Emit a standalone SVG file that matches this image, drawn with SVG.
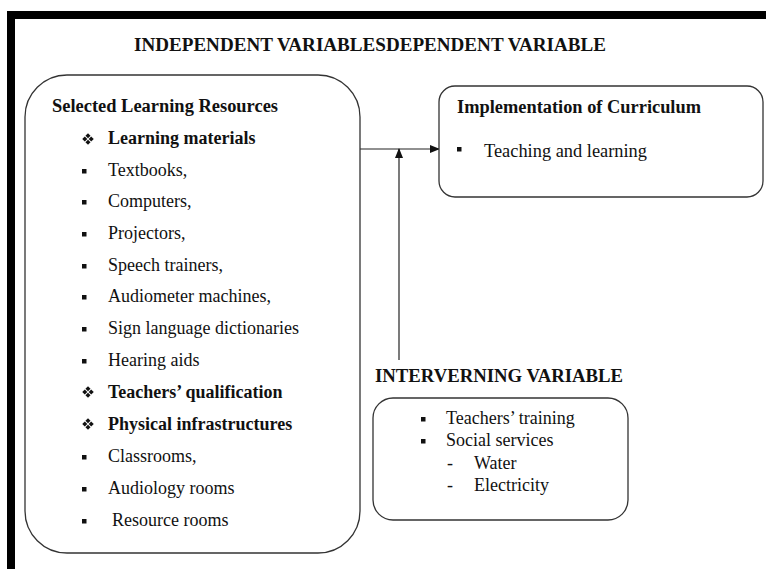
<svg xmlns="http://www.w3.org/2000/svg" width="766" height="569" viewBox="0 0 766 569">
  <style>
    text { font-family: "Liberation Serif", "Times New Roman", serif; fill: #111; font-size: 18px; }
    .b { font-weight: bold; }
    .box { fill: #fff; stroke: #333; stroke-width: 1.3; }
    .line { stroke: #222; stroke-width: 1.2; fill: none; }
    .sq { fill: #111; }
  </style>
  <defs>
    <marker id="arrow" markerWidth="10" markerHeight="8" refX="9" refY="4" orient="auto" markerUnits="userSpaceOnUse">
      <path d="M0,0 L10,4 L0,8 Z" fill="#111"/>
    </marker>
    <g id="diamond">
      <rect x="-1.8" y="-5" width="3.6" height="3.6" transform="rotate(45 0 -3.2)"/>
      <rect x="-1.8" y="1.4" width="3.6" height="3.6" transform="rotate(45 0 3.2)"/>
      <rect x="-5" y="-1.8" width="3.6" height="3.6" transform="rotate(45 -3.2 0)"/>
      <rect x="1.4" y="-1.8" width="3.6" height="3.6" transform="rotate(45 3.2 0)"/>
    </g>
  </defs>

  <rect width="766" height="569" fill="#fff"/>
  <!-- page frame -->
  <rect x="7" y="11" width="759" height="8" fill="#000"/>
  <rect x="7" y="11" width="8" height="558" fill="#000"/>

  <text class="b" x="134" y="51" style="font-size:18.5px" textLength="472" lengthAdjust="spacingAndGlyphs">INDEPENDENT VARIABLESDEPENDENT VARIABLE</text>

  <!-- connectors -->
  <g id="connectors">
    <line class="line" x1="360" y1="149" x2="439" y2="149" marker-end="url(#arrow)"/>
    <line class="line" x1="399" y1="360" x2="399" y2="149" marker-end="url(#arrow)"/>
  </g>

  <!-- independent variables -->
  <g id="independent">
    <rect class="box" x="25" y="75" width="335" height="478" rx="42" ry="42"/>
    <text class="b" x="52" y="112" textLength="226" lengthAdjust="spacingAndGlyphs">Selected Learning Resources</text>
    <use href="#diamond" x="88" y="139" fill="#111"/>
    <text class="b" x="108" y="144">Learning materials</text>
    <rect class="sq" x="82" y="169" width="4.5" height="4.5"/>
    <text x="108" y="176">Textbooks,</text>
    <rect class="sq" x="82" y="200" width="4.5" height="4.5"/>
    <text x="108" y="207">Computers,</text>
    <rect class="sq" x="82" y="232" width="4.5" height="4.5"/>
    <text x="108" y="239">Projectors,</text>
    <rect class="sq" x="82" y="264" width="4.5" height="4.5"/>
    <text x="108" y="271">Speech trainers,</text>
    <rect class="sq" x="82" y="295" width="4.5" height="4.5"/>
    <text x="108" y="302">Audiometer machines,</text>
    <rect class="sq" x="82" y="327" width="4.5" height="4.5"/>
    <text x="108" y="334">Sign language dictionaries</text>
    <rect class="sq" x="82" y="359" width="4.5" height="4.5"/>
    <text x="108" y="366">Hearing aids</text>
    <use href="#diamond" x="88" y="392" fill="#111"/>
    <text class="b" x="108" y="398">Teachers’ qualification</text>
    <use href="#diamond" x="88" y="424" fill="#111"/>
    <text class="b" x="108" y="430">Physical infrastructures</text>
    <rect class="sq" x="82" y="455" width="4.5" height="4.5"/>
    <text x="108" y="462">Classrooms,</text>
    <rect class="sq" x="82" y="487" width="4.5" height="4.5"/>
    <text x="108" y="494">Audiology rooms</text>
    <rect class="sq" x="82" y="519" width="4.5" height="4.5"/>
    <text x="112" y="526">Resource rooms</text>
  </g>

  <!-- dependent variable -->
  <g id="dependent">
    <rect class="box" x="439" y="86" width="324" height="111" rx="16" ry="16"/>
    <text class="b" x="457" y="113" textLength="244" lengthAdjust="spacingAndGlyphs">Implementation of Curriculum</text>
    <rect class="sq" x="457" y="147" width="4.5" height="4.5"/>
    <text x="484" y="157" textLength="163" lengthAdjust="spacingAndGlyphs">Teaching and learning</text>
  </g>

  <!-- intervening variable -->
  <g id="intervening">
    <text class="b" x="375" y="382" textLength="248" lengthAdjust="spacingAndGlyphs">INTERVERNING VARIABLE</text>
    <rect class="box" x="373" y="398" width="255" height="122" rx="20" ry="20"/>
    <rect class="sq" x="421" y="417" width="4.5" height="4.5"/>
    <text x="446" y="424">Teachers’ training</text>
    <rect class="sq" x="421" y="439" width="4.5" height="4.5"/>
    <text x="446" y="446">Social services</text>
    <text x="447" y="469">-</text>
    <text x="474" y="469">Water</text>
    <text x="447" y="491">-</text>
    <text x="474" y="491">Electricity</text>
  </g>
</svg>
